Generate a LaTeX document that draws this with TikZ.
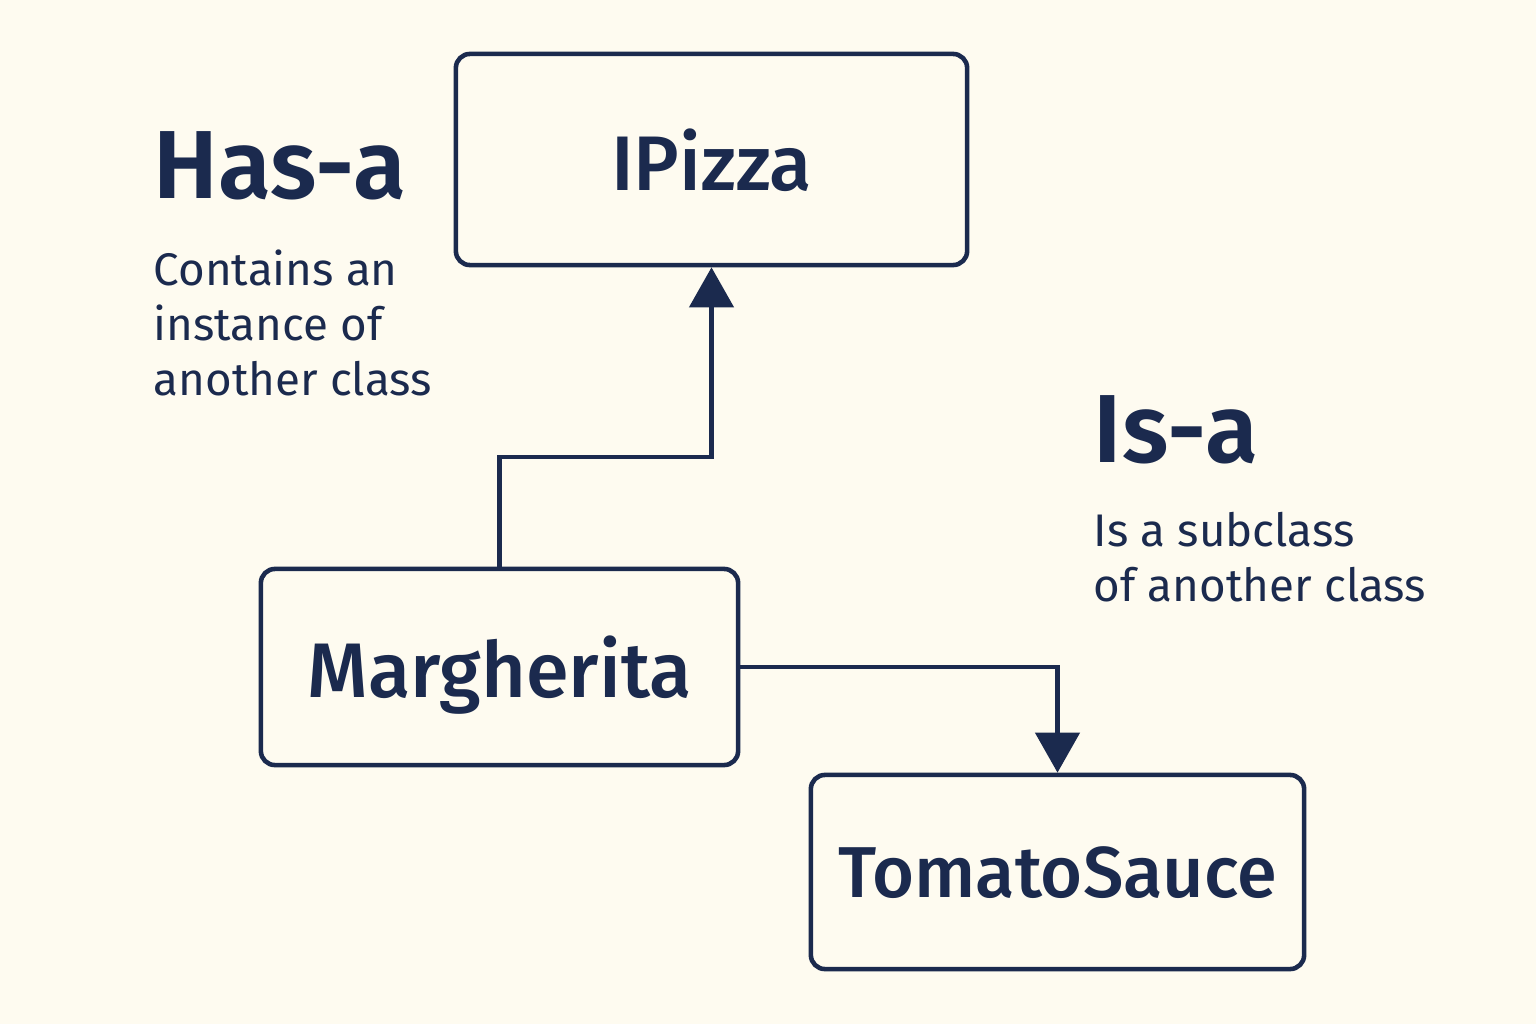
\documentclass[tikz,border=0pt]{standalone}
\usepackage{fontspec}
\setmainfont{Fira Sans}
\newfontfamily\medfont{Fira Sans}[UprightFont={* Medium}]
\newfontfamily\semifont{Fira Sans}[UprightFont={* SemiBold}]
\usetikzlibrary{arrows.meta,positioning}
\definecolor{navy}{HTML}{1B2A4E}
\definecolor{cream}{HTML}{FEFBF0}

\begin{document}
\begin{tikzpicture}[x=0.01cm,y=-0.01cm,
  >={Triangle[width=0.44cm,length=0.40cm]},
  class node/.style={rectangle,draw=navy,line width=1.3pt,rounded corners=4pt,
    text=navy,inner sep=0pt,text depth=0pt,font=\fontsize{22}{26}\medfont},
  title text/.style={text=navy,inner sep=0pt,font=\fontsize{27.5}{32}\semifont},
  note text/.style={text=navy,inner sep=0pt,align=left,font=\fontsize{13}{15.6}\selectfont},
  link/.style={->,draw=navy,line width=1.3pt}]
  \fill[cream] (0,0) rectangle (1536,1024);

  \node[class node,minimum width=5.11cm,minimum height=2.11cm] (pizza) at (711.5,159.5) {IPizza};
  \node[class node,minimum width=4.77cm,minimum height=1.96cm] (marg) at (499.5,667) {Margherita};
  \node[class node,minimum width=4.93cm,minimum height=1.94cm,font=\fontsize{20.5}{24}\medfont] (sauce) at (1057.5,872) {TomatoSauce};

  \node[title text,anchor=base west] (hasa) at (153,198) {Has-a};
  \node[note text,anchor=north west] (hasanote) at (153,249) {Contains an\\instance of\\another class};
  \node[title text,anchor=base west] (isa) at (1093,462) {Is-a};
  \node[note text,anchor=north west] (isanote) at (1093,512) {Is a subclass\\of another class};

  \coordinate (bend) at (605,457);
  \draw[link] (marg.north) |- (bend) -| (pizza.south);
  \draw[link] (marg.east) -| (sauce.north);
\end{tikzpicture}
\end{document}
